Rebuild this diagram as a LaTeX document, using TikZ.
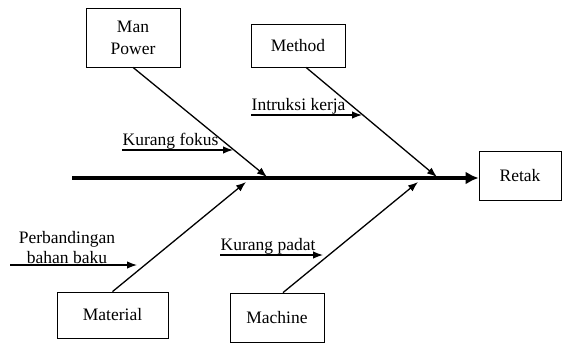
\documentclass[tikz,border=0pt]{standalone}
\usepackage{fontspec}
\setmainfont{Liberation Serif}
\usetikzlibrary{arrows.meta,calc,positioning}

\tikzset{
  causebox/.style={draw,line width=0.8pt,inner sep=2pt,align=center,
    font=\fontsize{17.5}{22}\selectfont},
  bone/.style={line width=1.3pt,-{Latex[length=10pt,width=7.5pt]}},
  spine/.style={line width=4pt,-{Latex[length=13pt,width=13pt]}},
  subcause/.style={line width=1.3pt,-{Latex[length=10pt,width=7.5pt]}},
  subtext/.style={inner sep=0.5pt,align=center,font=\fontsize{17.5}{19.5}\selectfont}
}

\begin{document}
\begin{tikzpicture}[x=1pt,y=-1pt,line cap=butt,line join=miter]
  \useasboundingbox (0,0) rectangle (569,343);
  % boxes
  \node[causebox,minimum width=94,minimum height=59] (manpower) at (133,37.5) {Man\\Power};
  \node[causebox,minimum width=94,minimum height=43] (method) at (298,45.5) {Method};
  \node[causebox,minimum width=82,minimum height=49] (retak) at (520,175.5) {Retak};
  \node[causebox,minimum width=111,minimum height=46] (material) at (112.5,315) {Material};
  \node[causebox,minimum width=94,minimum height=49] (machine) at (277,317.5) {Machine};
  % spine
  \coordinate (tail) at (72,178);
  \draw[spine] (tail) -- (tail -| retak.west);
  % bones
  \coordinate (tipMP) at (267,177);
  \coordinate (tipMe) at (437,177);
  \coordinate (tipMa) at (246,182);
  \coordinate (tipMc) at (418,182);
  \draw[bone] (manpower.south) -- (tipMP);
  \draw[bone] ($(method.south)+(8,0)$) -- (tipMe);
  \draw[bone] (material.north) -- (tipMa);
  \draw[bone] ($(machine.north)+(6,0)$) -- (tipMc);
  % sub causes
  \coordinate (fokusA) at (122,150);
  \coordinate (fokusB) at (233,150);
  \draw[subcause] (fokusA) -- (fokusB);
  \node[subtext,anchor=south west] (fokus) at (fokusA) {Kurang fokus};
  \coordinate (kerjaA) at (251,115);
  \coordinate (kerjaB) at (362,115);
  \draw[subcause] (kerjaA) -- (kerjaB);
  \node[subtext,anchor=south west] (kerja) at (kerjaA) {Intruksi kerja};
  \coordinate (bahanA) at (10,265);
  \coordinate (bahanB) at (137,265);
  \draw[subcause] (bahanA) -- (bahanB);
  \node[subtext,anchor=south] (bahan) at (67,264) {Perbandingan\\bahan baku};
  \coordinate (padatA) at (220,255);
  \coordinate (padatB) at (323,255);
  \draw[subcause] (padatA) -- (padatB);
  \node[subtext,anchor=south west] (padat) at (padatA) {Kurang padat};
\end{tikzpicture}
\end{document}
